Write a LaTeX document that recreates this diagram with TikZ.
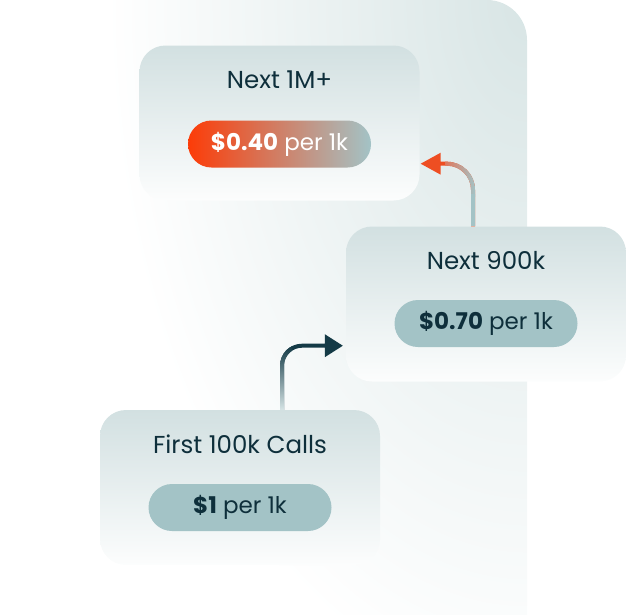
\documentclass[tikz,border=0pt]{standalone}
\usepackage{fontspec}
\setmainfont{Poppins}
\usetikzlibrary{calc,shadings}
\definecolor{ink}{HTML}{0E2F3B}
\definecolor{panel}{HTML}{D8E5E5}
\definecolor{cardtop}{HTML}{D2E0E1}
\definecolor{cardbot}{HTML}{FCFDFD}
\definecolor{pillbg}{HTML}{A3C3C6}
\definecolor{orng}{HTML}{FC3C08}
\definecolor{pillmid}{HTML}{D9735C}
\definecolor{aonedark}{HTML}{143A46}
\definecolor{aonelight}{HTML}{D6E4E5}
\definecolor{atwoorng}{HTML}{EE4E22}
\definecolor{atwosalmon}{HTML}{E0785C}
\tikzset{
  card/.style={rounded corners=26pt, top color=cardtop, bottom color=cardbot,
    draw=none, minimum width=280pt, minimum height=155pt, inner sep=0pt},
  title/.style={anchor=base, text=ink, font=\fontsize{24.5}{28}\selectfont, inner sep=0pt},
  pill/.style={rounded corners=23.5pt, minimum width=183pt, minimum height=47pt,
    inner sep=0pt, font=\fontsize{23}{26}\selectfont},
}
\begin{document}
\begin{tikzpicture}[x=1pt,y=-1pt]
\useasboundingbox (0,0) rectangle (626,614);
% background panel
\begin{scope}
\clip[rounded corners=40pt] (-90,0) rectangle (527,700);
\shade[inner color=panel, outer color=white] (527,0) ellipse [x radius=420, y radius=700];
\end{scope}

% cards
\node[card] (c1) at (279.5,123) {};
\node[card] (c2) at (486,304) {};
\node[card] (c3) at (240,487.5) {};

% titles
\node[title] (t1) at ($(c1.north)+(0,43.5)$) {Next 1M+};
\node[title] (t2) at ($(c2.north)+(0,43.5)$) {Next 900k};
\node[title] (t3) at ($(c3.north)+(0,43.5)$) {First 100k Calls};

% pills
\node[pill, left color=orng, middle color=pillmid, right color=pillbg, text=white]
  (p1) at ($(c1.center)+(0,21)$) {\textbf{\$0.40} per 1k};
\node[pill, fill=pillbg, text=ink] (p2) at ($(c2.center)+(0,19.5)$) {\textbf{\$0.70} per 1k};
\node[pill, fill=pillbg, text=ink] (p3) at ($(c3.center)+(0,20)$) {\textbf{\$1} per 1k};

% connector 1: c3 -> c2
\coordinate (S1) at ([xshift=42pt]c3.north);
\coordinate (E1) at ($(c2.south west)+(-3,-36)$);
\coordinate (K1) at (S1 |- E1);
\begin{scope}
\clip ($(S1)+(-2,0)$) -- ($(K1)+(-2,20)$) .. controls ($(K1)+(-2,7.85)$) and ($(K1)+(7.85,-2)$) .. ($(K1)+(20,-2)$)
  -- ($(E1)+(-18,-2)$) -- ($(E1)+(-18,-11.5)$) -- (E1) -- ($(E1)+(-18,11.5)$) -- ($(E1)+(-18,2)$)
  -- ($(K1)+(20,2)$) .. controls ($(K1)+(10.06,2)$) and ($(K1)+(2,10.06)$) .. ($(K1)+(2,20)$)
  -- ($(S1)+(2,0)$) -- cycle;
\fill[aonedark] ($(S1)+(-10,10)$) rectangle ($(E1)+(5,-20)$);
\shade[top color=aonedark, bottom color=aonelight] ($(S1)+(-10,0)$) rectangle ($(K1)+(10,0)$);
\end{scope}

% connector 2: c2 -> c1
\coordinate (S2) at ([xshift=-13pt]c2.north);
\coordinate (E2) at ($(c1.south east)+(1,-37)$);
\coordinate (K2) at (S2 |- E2);
\begin{scope}
\clip ($(S2)+(2,0)$) -- ($(K2)+(2,26)$) .. controls ($(K2)+(2,10.54)$) and ($(K2)+(-10.54,-2)$) .. ($(K2)+(-26,-2)$)
  -- ($(E2)+(20,-2)$) -- ($(E2)+(20,-11)$) -- (E2) -- ($(E2)+(20,11)$) -- ($(E2)+(20,2)$)
  -- ($(K2)+(-26,2)$) .. controls ($(K2)+(-12.74,2)$) and ($(K2)+(-2,12.74)$) .. ($(K2)+(-2,26)$)
  -- ($(S2)+(-2,0)$) -- cycle;
\fill[atwoorng] ($(E2)+(-5,-20)$) rectangle ($(S2)+(10,5)$);
\shade[left color=atwosalmon, right color=pillbg] ($(K2)+(-28,-15)$) rectangle ($(K2 |- S2)+(2,-30)$);
\fill[pillbg] ($(K2 |- S2)+(-5,0)$) rectangle ($(K2)+(5,30)$);
\end{scope}
\end{tikzpicture}
\end{document}
